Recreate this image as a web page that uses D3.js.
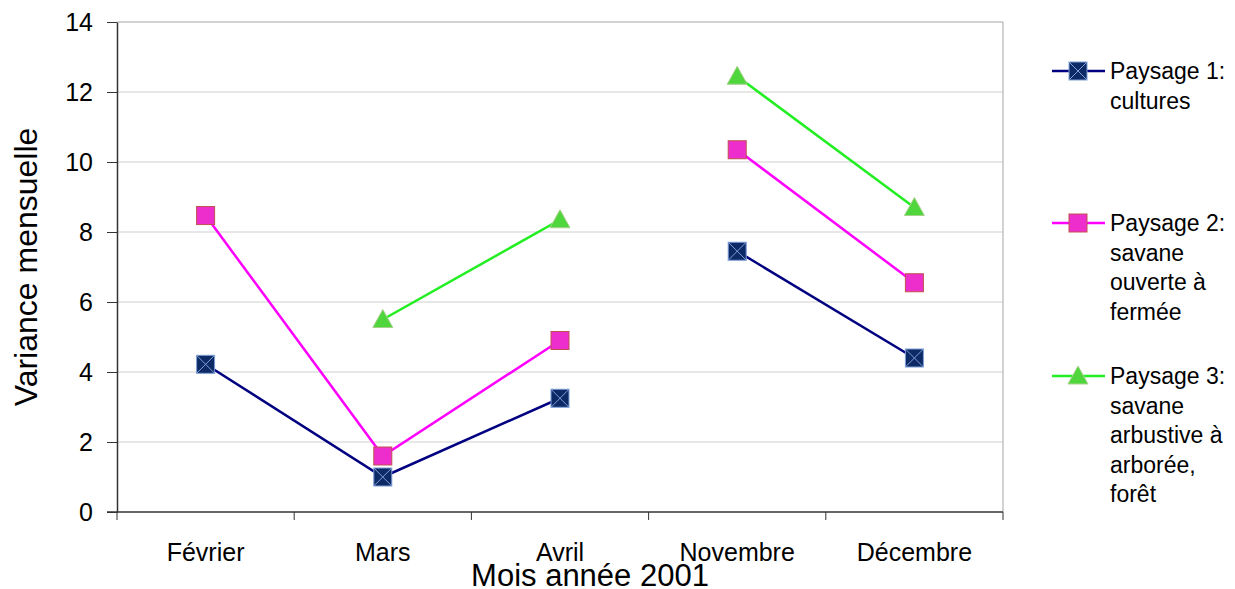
<!DOCTYPE html>
<html>
<head>
<meta charset="utf-8">
<script src="https://cdn.jsdelivr.net/npm/d3@7.9.0/dist/d3.min.js"></script>
<style>
  body { margin: 0; background: #fff; }
  text { font-family: Arial, "Liberation Sans", sans-serif; fill: #000; }
</style>
</head>
<body>
<svg id="chart" width="1235" height="589"></svg>
<script>
// --- data ---
const months = ["Février", "Mars", "Avril", "Novembre", "Décembre"];
const periods = [1, 1, 1, 2, 2]; // lines are not joined between Avril and Novembre
const paysage1 = [4.22, 1.0, 3.25, 7.45, 4.4];
const paysage2 = [8.47, 1.6, 4.9, 10.35, 6.55];
const paysage3 = [null, 5.5, 8.35, 12.45, 8.7];
const yTicks = [0, 2, 4, 6, 8, 10, 12, 14];
const seriesNames = [
  ["Paysage 1:", "cultures"],
  ["Paysage 2:", "savane", "ouverte à", "fermée"],
  ["Paysage 3:", "savane", "arbustive à", "arborée,", "forêt"]
];

const series = [
  { values: paysage1, line: "#000080", fill: "#0d2a66", stroke: "#7d9fd6", marker: "xsquare", legendY: 71 },
  { values: paysage2, line: "#ff00ff", fill: "#ee2ecc", stroke: "#c0504d", marker: "square", legendY: 223 },
  { values: paysage3, line: "#22ee22", fill: "#4fd63c", stroke: "#a8d08d", marker: "triangle", legendY: 376 }
];

// --- layout ---
const svg = d3.select("#chart");
const plot = { left: 117, right: 1003, top: 22, bottom: 512 };

const x = d3.scaleBand().domain(months).range([plot.left, plot.right]);
const y = d3.scaleLinear().domain([0, 14]).range([plot.bottom, plot.top]);

// gridlines
svg.append("g")
  .selectAll("line")
  .data(yTicks.filter(d => d > 0))
  .join("line")
  .attr("x1", plot.left).attr("x2", plot.right)
  .attr("y1", d => y(d)).attr("y2", d => y(d))
  .attr("stroke", d => d === 14 ? "#a6a6a6" : "#cfcfcf")
  .attr("stroke-width", 1);

// right border
svg.append("line")
  .attr("x1", plot.right).attr("x2", plot.right)
  .attr("y1", plot.top).attr("y2", plot.bottom)
  .attr("stroke", "#a6a6a6");

// y axis
const yAxis = svg.append("g")
  .attr("transform", `translate(${plot.left},0)`)
  .call(d3.axisLeft(y).tickValues(yTicks).tickSize(10).tickPadding(14).tickSizeOuter(0));
yAxis.select(".domain").attr("stroke", "#333").attr("stroke-width", 1.5);
yAxis.selectAll(".tick line").attr("stroke", "#333");
yAxis.selectAll("text").style("font-size", "25px").attr("fill", "#000").attr("font-family", "Arial, 'Liberation Sans', sans-serif");

// x axis: ticks at category boundaries
const bounds = months.map(m => x(m)).concat([plot.right]);
svg.append("line")
  .attr("x1", plot.left - 10).attr("x2", plot.right)
  .attr("y1", plot.bottom).attr("y2", plot.bottom)
  .attr("stroke", "#333").attr("stroke-width", 1.5);
svg.append("g")
  .selectAll("line")
  .data(bounds)
  .join("line")
  .attr("x1", d => d).attr("x2", d => d)
  .attr("y1", plot.bottom).attr("y2", plot.bottom + 8)
  .attr("stroke", "#333");

svg.append("g")
  .selectAll("text")
  .data(months)
  .join("text")
  .attr("x", d => x(d) + x.bandwidth() / 2)
  .attr("y", 561)
  .attr("text-anchor", "middle")
  .style("font-size", "25px")
  .text(d => d);

// axis titles
svg.append("text")
  .attr("transform", `translate(37,${(plot.top + plot.bottom) / 2}) rotate(-90)`)
  .attr("text-anchor", "middle")
  .style("font-size", "32px")
  .text("Variance mensuelle");

svg.append("text")
  .attr("x", 590)
  .attr("y", 586)
  .attr("text-anchor", "middle")
  .style("font-size", "31px")
  .text("Mois année 2001");

// lines and markers
const cx = m => x(m) + x.bandwidth() / 2;
const line = d3.line()
  .defined(d => d.v !== null)
  .x(d => cx(d.m))
  .y(d => y(d.v));

function drawMarker(g, s, px, py) {
  if (s.marker === "triangle") {
    g.append("path")
      .attr("d", `M${px},${py - 10}L${px + 10},${py + 8}L${px - 10},${py + 8}Z`)
      .attr("fill", s.fill).attr("stroke", s.stroke).attr("stroke-width", 1);
  } else {
    const h = 9;
    g.append("rect")
      .attr("x", px - h).attr("y", py - h)
      .attr("width", 2 * h).attr("height", 2 * h)
      .attr("fill", s.fill).attr("stroke", s.stroke).attr("stroke-width", 1);
    if (s.marker === "xsquare") {
      g.append("path")
        .attr("d", `M${px - h},${py - h}L${px + h},${py + h}M${px + h},${py - h}L${px - h},${py + h}`)
        .attr("stroke", s.stroke).attr("stroke-width", 1);
    }
  }
}

series.forEach(s => {
  const pts = months.map((m, i) => ({ m, v: s.values[i], p: periods[i] }));
  d3.groups(pts, d => d.p).forEach(([, seg]) => {
    svg.append("path")
      .datum(seg)
      .attr("d", line)
      .attr("fill", "none")
      .attr("stroke", s.line)
      .attr("stroke-width", 2.5);
  });
});

series.forEach(s => {
  const g = svg.append("g");
  months.forEach((m, i) => {
    if (s.values[i] !== null) drawMarker(g, s, cx(m), y(s.values[i]));
  });
});

// legend
series.forEach((s, i) => {
  const g = svg.append("g");
  g.append("line")
    .attr("x1", 1052).attr("x2", 1105)
    .attr("y1", s.legendY).attr("y2", s.legendY)
    .attr("stroke", s.line).attr("stroke-width", 2.5);
  drawMarker(g, s, 1078, s.legendY);
  seriesNames[i].forEach((t, j) => {
    g.append("text")
      .attr("x", 1110)
      .attr("y", s.legendY + 8 + j * 29.5)
      .style("font-size", "23px")
      .text(t);
  });
});
</script>
</body>
</html>
